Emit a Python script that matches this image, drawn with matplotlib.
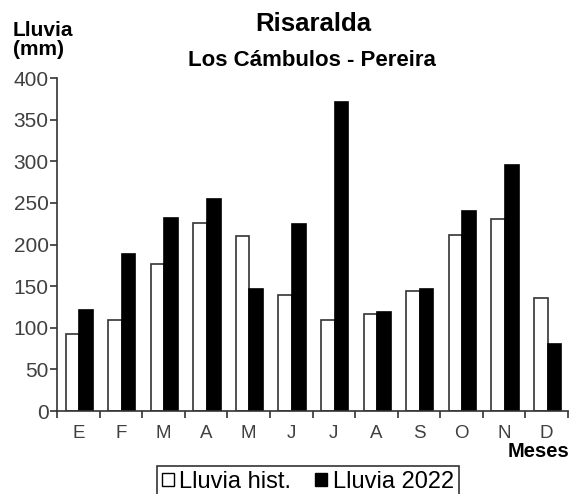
import matplotlib.pyplot as plt
import numpy as np
from matplotlib.patches import Patch

plt.rcParams["font.family"] = ["Liberation Sans", "DejaVu Sans"]

meses = ["E", "F", "M", "A", "M", "J", "J", "A", "S", "O", "N", "D"]
lluvia_hist = [92, 109, 176, 226, 210, 139, 109, 116, 144, 212, 231, 136]
lluvia_2022 = [121, 188, 232, 255, 146, 225, 371, 119, 146, 240, 296, 81]

W, H = 571, 494
fig = plt.figure(figsize=(W / 100, H / 100), dpi=100)
ax = fig.add_axes([57 / W, 1 - 411 / H, (568 - 57) / W, (411 - 78) / H])

x = np.arange(len(meses))
bw = 0.32
ax.bar(x - bw / 2 + 0.02, lluvia_hist, bw, color="white", edgecolor="#333333", linewidth=1.2)
ax.bar(x + bw / 2 + 0.02, lluvia_2022, bw, color="black", edgecolor="black", linewidth=1.2)

ax.set_xlim(-0.5, len(meses) - 0.5)
ax.set_ylim(0, 400)
ax.set_yticks(range(0, 401, 50))
ax.set_xticks(x)
ax.set_xticklabels(meses)
ax.set_xticks(np.arange(-0.5, len(meses), 1), minor=True)

for s in ["top", "right"]:
    ax.spines[s].set_visible(False)
for s in ["left", "bottom"]:
    ax.spines[s].set_color("#333333")
    ax.spines[s].set_linewidth(1.2)

ax.tick_params(axis="y", length=5, width=1.2, color="#333333", labelsize=15,
               labelcolor="#404040", pad=1)
ax.tick_params(axis="x", which="major", length=0, labelsize=13.5,
               labelcolor="#404040", pad=10)
ax.tick_params(axis="x", which="minor", length=5, width=1.2, color="#333333")

fig.text(313 / W, 1 - 24 / H, "Risaralda", ha="center", va="center",
         fontsize=18.5, fontweight="bold")
fig.text(312 / W, 1 - 61 / H, "Los Cámbulos - Pereira", ha="center", va="center",
         fontsize=16, fontweight="bold")
fig.text(13 / W, 1 - 40 / H, "Lluvia\n(mm)", ha="left", va="center",
         fontsize=15, fontweight="bold", linespacing=1.0)
fig.text(569 / W, 1 - 451 / H, "Meses", ha="right", va="center",
         fontsize=14.5, fontweight="bold")

handles = [Patch(facecolor="white", edgecolor="black", linewidth=1),
           Patch(facecolor="black", edgecolor="black", linewidth=1)]
leg = fig.legend(handles, ["Lluvia hist.", "Lluvia 2022"], loc="upper left",
                 bbox_to_anchor=(157 / W, 1 - 466 / H), ncol=2, frameon=True,
                 fancybox=False, edgecolor="black", fontsize=17,
                 handlelength=0.5, handleheight=0.5, handletextpad=0.25,
                 columnspacing=1.0, borderpad=0.2, borderaxespad=0)
leg.get_frame().set_linewidth(1.2)

fig.savefig("out.png", dpi=100)
